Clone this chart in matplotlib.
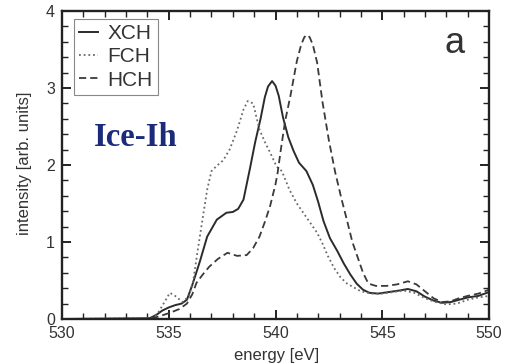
import matplotlib
matplotlib.use('Agg')
import matplotlib.pyplot as plt
from matplotlib.ticker import MultipleLocator

plt.rcParams['font.family'] = ['Liberation Sans', 'DejaVu Sans']

# XCH spectrum (solid)
xch_energy = [530, 534.1, 534.4, 534.7, 535.0, 535.3, 535.6, 535.85, 536.1, 536.45,
              536.8, 537.25, 537.7, 538.0, 538.25, 538.5, 538.8, 539.05, 539.3, 539.5,
              539.65, 539.84, 540.0, 540.15, 540.35, 540.6, 540.85, 541.1, 541.45, 541.75,
              542.0, 542.25, 542.55, 542.9, 543.2, 543.5, 543.8, 544.1, 544.4, 544.8,
              545.3, 545.8, 546.2, 546.6, 547.0, 547.4, 547.8, 548.2, 548.6, 549.0,
              549.5, 550]
xch_intensity = [0, 0.01, 0.05, 0.11, 0.15, 0.18, 0.2, 0.25, 0.44, 0.74,
                 1.07, 1.29, 1.38, 1.39, 1.43, 1.55, 1.95, 2.3, 2.6, 2.88,
                 3.02, 3.09, 3.03, 2.9, 2.62, 2.36, 2.18, 2.03, 1.92, 1.74,
                 1.52, 1.27, 1.05, 0.88, 0.72, 0.58, 0.46, 0.38, 0.34, 0.33,
                 0.35, 0.37, 0.39, 0.36, 0.29, 0.24, 0.21, 0.22, 0.25, 0.28,
                 0.3, 0.35]

# FCH spectrum (dotted)
fch_energy = [530, 534.2, 534.5, 534.8, 535.05, 535.3, 535.65, 535.95, 536.15, 536.35,
              536.55, 536.8, 537.0, 537.25, 537.55, 537.85, 538.2, 538.5, 538.7, 538.95,
              539.25, 539.5, 539.75, 540.05, 540.3, 540.65, 541.0, 541.3, 541.65, 541.95,
              542.2, 542.45, 542.75, 543.05, 543.35, 543.6, 544.0, 544.5, 545.0, 545.5,
              546.0, 546.5, 547.0, 547.5, 548.0, 548.5, 549.0, 549.5, 550]
fch_intensity = [0, 0.01, 0.08, 0.22, 0.34, 0.3, 0.22, 0.3, 0.5, 0.88,
                 1.24, 1.68, 1.92, 1.99, 2.06, 2.2, 2.45, 2.72, 2.83, 2.8,
                 2.46, 2.3, 2.16, 1.98, 1.92, 1.68, 1.5, 1.38, 1.24, 1.12,
                 0.98, 0.82, 0.66, 0.54, 0.46, 0.42, 0.36, 0.33, 0.33, 0.35,
                 0.37, 0.34, 0.27, 0.22, 0.19, 0.2, 0.25, 0.28, 0.3]

# HCH spectrum (dashed)
hch_energy = [530, 534.1, 534.5, 535.05, 535.5, 535.85, 536.1, 536.3, 536.6, 536.9,
              537.3, 537.75, 538.2, 538.65, 538.95, 539.25, 539.5, 539.75, 540.0, 540.1,
              540.25, 540.45, 540.7, 541.0, 541.2, 541.35, 541.47, 541.6, 541.75, 541.95,
              542.2, 542.5, 542.8, 543.1, 543.35, 543.6, 543.85, 544.1, 544.35, 544.7,
              545.2, 545.7, 546.2, 546.6, 547.0, 547.4, 547.8, 548.2, 548.6, 549.0,
              549.5, 550]
hch_intensity = [0, 0.0, 0.03, 0.08, 0.13, 0.2, 0.32, 0.47, 0.58, 0.68,
                 0.78, 0.86, 0.82, 0.83, 0.92, 1.07, 1.26, 1.47, 1.75, 1.9,
                 2.2, 2.57, 2.9, 3.35, 3.56, 3.66, 3.69, 3.66, 3.56, 3.33,
                 2.82, 2.32, 1.9, 1.55, 1.28, 1.0, 0.8, 0.6, 0.46, 0.43,
                 0.43, 0.45, 0.49, 0.45, 0.36, 0.27, 0.22, 0.23, 0.27, 0.3,
                 0.33, 0.38]

fig = plt.figure(figsize=(5.07, 3.64), dpi=100)
ax = fig.add_axes([0.1223, 0.1236, 0.8422, 0.8462])

ax.plot(xch_energy, xch_intensity, color='#2b2b2b', lw=1.4, label='XCH')
ax.plot(fch_energy, fch_intensity, color='#6a6a6a', lw=1.3,
        linestyle=(0, (1, 1.6)), label='FCH')
ax.plot(hch_energy, hch_intensity, color='#3a3a3a', lw=1.3,
        linestyle=(0, (4, 2.2)), label='HCH')

ax.set_xlim(530, 550)
ax.set_ylim(0, 4)
ax.xaxis.set_major_locator(MultipleLocator(5))
ax.xaxis.set_minor_locator(MultipleLocator(1))
ax.yaxis.set_major_locator(MultipleLocator(1))
ax.yaxis.set_minor_locator(MultipleLocator(0.2))

ax.tick_params(which='both', direction='in', top=True, right=True,
               colors='#222222', labelcolor='#333333', labelsize=11.5)
ax.tick_params(which='major', length=6.5, width=1.4, pad=5)
ax.tick_params(which='minor', length=4, width=1.0)
for sp in ax.spines.values():
    sp.set_linewidth(1.7)
    sp.set_color('#222222')

ax.set_xlabel('energy [eV]', fontsize=12, color='#333333')
ax.xaxis.set_label_coords(0.503, -0.094)
ax.set_ylabel('intensity [arb. units]', fontsize=12, color='#333333')
ax.yaxis.set_label_coords(-0.070, 0.506)

leg = ax.legend(loc='upper left', bbox_to_anchor=(0.028, 0.974),
                borderaxespad=0, fontsize=15, fancybox=False,
                handlelength=0.92, handletextpad=0.43, labelspacing=0.2,
                borderpad=0.25, framealpha=1)
leg.get_frame().set_edgecolor('#888888')
leg.get_frame().set_linewidth(0.8)
for t in leg.get_texts():
    t.set_color('#333333')

ax.text(0.075, 0.563, 'Ice-Ih', transform=ax.transAxes, fontsize=23.5,
        fontweight='bold', family='Liberation Serif', color='#1b2a7a',
        ha='left', va='baseline')
ax.text(0.920, 0.864, 'a', transform=ax.transAxes, fontsize=26,
        color='#333333', ha='center', va='baseline')

fig.savefig('out.png', dpi=100)
